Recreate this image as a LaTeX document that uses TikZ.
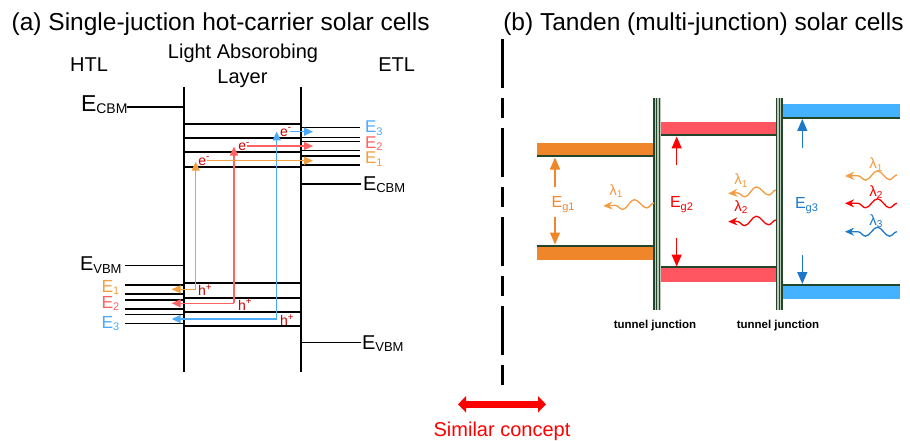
\documentclass[tikz,border=0pt]{standalone}
\usepackage{fontspec}
\setmainfont{Liberation Sans}
\usetikzlibrary{arrows.meta,decorations.pathmorphing}
\definecolor{lor}{HTML}{F0A040}
\definecolor{lrd}{HTML}{FF6262}
\definecolor{lbl}{HTML}{4DAAF8}
\definecolor{dkr}{HTML}{C80000}
\definecolor{bor}{HTML}{F0862A}
\definecolor{brd}{HTML}{FF5661}
\definecolor{bbl}{HTML}{45B2FF}
\definecolor{pure}{HTML}{FF0000}
\definecolor{dbl}{HTML}{1E78C8}
\definecolor{wor}{HTML}{F39B40}
\definecolor{dgr}{HTML}{23452A}
\definecolor{jfl}{HTML}{B9C9BA}
\newcommand{\Elab}[4]{{\fontsize{#1}{#1}\selectfont E}{\fontsize{#2}{#2}\selectfont\raisebox{-#3}{#4}}}
\newcommand{\lam}[1]{{\fontsize{15}{15}\selectfont λ}{\fontsize{10}{10}\selectfont\raisebox{-2.5pt}{#1}}}
\begin{document}
\begin{tikzpicture}[x=1pt,y=-1pt,
  txt/.style={inner sep=0pt,outer sep=0pt},
  layer/.style={line width=2.2pt,black},
  lvl/.style={line width=1.9pt,black},
  thinl/.style={line width=1.3pt,black},
  arr/.style={line width=1.4pt,-{Triangle[length=9pt,width=8pt]}},
  garr/.style={line width=1.4pt,-{Triangle[length=12pt,width=10pt]}},
  edge/.style={line width=2pt,dgr},
  jline/.style={line width=1.2pt,dgr},
  wave/.style={line width=1.3pt,decorate,decoration={snake,amplitude=4.5pt,segment length=24pt,post length=6pt},-{Stealth[length=9pt,width=8pt]}},
  eh/.style={txt,dkr,font=\fontsize{14}{14}\selectfont}
]
\useasboundingbox (0,0) rectangle (910,441);

% ---------- titles ----------
\node[txt,anchor=base west,font=\fontsize{24.5}{24.5}\selectfont] (ta) at (11.7,30.7) {(a) Single-juction hot-carrier solar cells};
\node[txt,anchor=base west,font=\fontsize{24.5}{24.5}\selectfont] (tb) at (503.3,30.7) {(b) Tanden (multi-junction) solar cells};

% ---------- left panel headings ----------
\node[txt,anchor=base,font=\fontsize{20}{20}\selectfont] (htl) at (89,71.7) {HTL};
\node[txt,anchor=base,font=\fontsize{20}{20}\selectfont] (lal1) at (243,58.3) {Light Absorobing};
\node[txt,anchor=base,font=\fontsize{20}{20}\selectfont] (lal2) at (242.5,83.3) {Layer};
\node[txt,anchor=base,font=\fontsize{20}{20}\selectfont] (etl) at (396.7,71.7) {ETL};

% ---------- layer ----------
\coordinate (LT) at (184,87); \coordinate (LB) at (184,372);
\coordinate (RT) at (301,87); \coordinate (RB) at (301,372);
\draw[layer] (LT) -- (LB);
\draw[layer] (RT) -- (RB);
\foreach \y in {124.3,138.3,152,167.3,282.7,297.7,311.7,326}
  \draw[lvl] (184,\y) -- (301,\y);
\foreach \y in {127.7,137.3,141.7,150.7,156,165}
  \draw[thinl] (301,\y) -- (360,\y);
\foreach \y in {285,294,300,309,314.3,323.3}
  \draw[thinl] (125,\y) -- (184,\y);

% band edge labels
\node[txt,anchor=base west] (ecbmL) at (81,111.7) {\Elab{23}{14}{2pt}{CBM}};
\node[txt,anchor=base west] (evbmL) at (80,270.7) {\Elab{20}{13}{2.5pt}{VBM}};
\node[txt,anchor=base west] (ecbmR) at (363,190) {\Elab{20}{13}{2.5pt}{CBM}};
\node[txt,anchor=base west] (evbmR) at (362,349.3) {\Elab{20}{13}{2.5pt}{VBM}};
\coordinate (cL) at (126.7,107); \coordinate (cL2) at (184,107);
\coordinate (vL) at (125,265.7); \coordinate (vL2) at (184,265.7);
\coordinate (cR) at (301,184); \coordinate (cR2) at (361,184);
\coordinate (vR) at (301,342.3); \coordinate (vR2) at (361,342.3);
\draw[thinl] (cL) -- (cL2);
\draw[thinl] (vL) -- (vL2);
\draw[thinl] (cR) -- (cR2);
\draw[thinl] (vR) -- (vR2);

% colored level labels
\node[txt,anchor=base west,lbl] (E3r) at (365,133) {\Elab{17}{11}{2pt}{3}};
\node[txt,anchor=base west,lrd] (E2r) at (365,148.5) {\Elab{17}{11}{2pt}{2}};
\node[txt,anchor=base west,lor] (E1r) at (365,164) {\Elab{17}{11}{2pt}{1}};
\node[txt,anchor=base west,lor] (E1l) at (101.5,292.5) {\Elab{17.5}{11}{2pt}{1}};
\node[txt,anchor=base west,lrd] (E2l) at (101.5,308.5) {\Elab{17.5}{11}{2pt}{2}};
\node[txt,anchor=base west,lbl] (E3l) at (101.5,328) {\Elab{17.5}{11}{2pt}{3}};

% carriers
\coordinate (oB) at (195.7,289.3); \coordinate (oT) at (195.7,161.7); \coordinate (oL) at (171.7,289.3);
\coordinate (rB) at (234,303.3);   \coordinate (rT) at (234,146.5);   \coordinate (rL) at (171.7,303.3);
\coordinate (bB) at (276.7,319);   \coordinate (bT) at (276.7,131.5); \coordinate (bL) at (171.7,319);
\coordinate (oS) at (207,160.7); \coordinate (oE) at (313,160.7);
\coordinate (rS) at (247,146);   \coordinate (rE) at (313,146);
\coordinate (bS) at (290,131.7); \coordinate (bE) at (313,131.7);
\draw[arr,lor] (oB) -- (oT);
\draw[arr,lrd] (rB) -- (rT);
\draw[arr,lbl] (bB) -- (bT);
\draw[arr,lor] (oB) -- (oL);
\draw[arr,lrd] (rB) -- (rL);
\draw[arr,lbl] (bB) -- (bL);
\draw[arr,lor] (oS) -- (oE);
\draw[arr,lrd] (rS) -- (rE);
\draw[arr,lbl] (bS) -- (bE);
\node[eh,anchor=base west] (e1) at (198.3,165) {e\textsuperscript{-}};
\node[eh,anchor=base west] (e2) at (238.3,150.7) {e\textsuperscript{-}};
\node[eh,anchor=base west] (e3) at (280,136) {e\textsuperscript{-}};
\node[eh,anchor=base west] (h1) at (198,295.5) {h\textsuperscript{+}};
\node[eh,anchor=base west] (h2) at (238,310) {h\textsuperscript{+}};
\node[eh,anchor=base west] (h3) at (280,325.5) {h\textsuperscript{+}};

% ---------- divider ----------
\coordinate (dT) at (502.3,39.3); \coordinate (dB) at (502.3,386);
\draw[line width=2.7pt,dash pattern=on 49pt off 10pt on 20pt off 10pt] (dT) -- (dB);
\coordinate (sL) at (458,404.3); \coordinate (sR) at (546,404.3);
\draw[pure,line width=6.5pt,{Triangle[length=8pt,width=16pt]}-{Triangle[length=8pt,width=16pt]}] (sL) -- (sR);
\node[txt,anchor=base,pure,font=\fontsize{20}{20}\selectfont] (sim) at (502,436.7) {Similar concept};

% ---------- right panel bands ----------
\fill[bor] (537,143.3) rectangle (655,156.7);
\draw[edge] (537,156) -- (655,156);
\fill[bor] (537,245) rectangle (655,260);
\draw[edge] (537,245.5) -- (655,245.5);
\fill[brd] (660,121.7) rectangle (777,135.7);
\draw[edge] (660,135.5) -- (777,135.5);
\fill[brd] (660,266.7) rectangle (777,281.7);
\draw[edge] (660,267.2) -- (777,267.2);
\fill[bbl] (783,104.3) rectangle (900,118.3);
\draw[edge] (783,118) -- (900,118);
\fill[bbl] (783,284.3) rectangle (900,299.3);
\draw[edge] (783,284.8) -- (900,284.8);

% tunnel junctions
\fill[jfl] (653.3,98.3) rectangle (660.7,310);
\foreach \x in {654,656.7,659.4} \draw[jline] (\x,98.3) -- (\x,310);
\fill[jfl] (775.9,98.3) rectangle (783.3,310);
\foreach \x in {776.6,779.3,782} \draw[jline] (\x,98.3) -- (\x,310);
\node[txt,anchor=base,font=\bfseries\fontsize{11.5}{11.5}\selectfont] (tj1) at (655,328) {tunnel junction};
\node[txt,anchor=base,font=\bfseries\fontsize{11.5}{11.5}\selectfont] (tj2) at (778,328) {tunnel junction};

% band gap arrows
\coordinate (g1a) at (555,187); \coordinate (g1b) at (555,157.5);
\coordinate (g1c) at (555,217); \coordinate (g1d) at (555,244.5);
\coordinate (g2a) at (676.7,165); \coordinate (g2b) at (676.7,136.5);
\coordinate (g2c) at (676.7,237.7); \coordinate (g2d) at (676.7,266.5);
\coordinate (g3a) at (802.3,148); \coordinate (g3b) at (802.3,119);
\coordinate (g3c) at (802.3,255); \coordinate (g3d) at (802.3,284);
\draw[garr,bor] (g1a) -- (g1b);
\draw[garr,bor] (g1c) -- (g1d);
\draw[garr,pure] (g2a) -- (g2b);
\draw[garr,pure] (g2c) -- (g2d);
\draw[garr,dbl] (g3a) -- (g3b);
\draw[garr,dbl] (g3c) -- (g3d);
\node[txt,anchor=base west,bor] (Eg1) at (551.7,207.3) {\Elab{16}{11}{3pt}{g1}};
\node[txt,anchor=base west,pure] (Eg2) at (670,207.5) {\Elab{16}{11}{3pt}{g2}};
\node[txt,anchor=base west,dbl] (Eg3) at (795,208.3) {\Elab{16}{11}{3pt}{g3}};

% photons
\coordinate (w1s) at (654,203); \coordinate (w1e) at (603.3,206);
\coordinate (w2s) at (776,190); \coordinate (w2e) at (728.3,193.5);
\coordinate (w3s) at (776,220); \coordinate (w3e) at (728.3,221.7);
\coordinate (w4s) at (897,175); \coordinate (w4e) at (845,176);
\coordinate (w5s) at (897,203.3); \coordinate (w5e) at (845,203.3);
\coordinate (w6s) at (897,231.7); \coordinate (w6e) at (845,231.7);
\draw[wave,wor] (w1s) -- (w1e);
\draw[wave,wor] (w2s) -- (w2e);
\draw[wave,pure] (w3s) -- (w3e);
\draw[wave,wor] (w4s) -- (w4e);
\draw[wave,pure] (w5s) -- (w5e);
\draw[wave,dbl] (w6s) -- (w6e);
\node[txt,wor] (l1a) at (616,191) {\lam{1}};
\node[txt,wor] (l1b) at (741,180.5) {\lam{1}};
\node[txt,pure] (l2b) at (741,207) {\lam{2}};
\node[txt,wor] (l1c) at (876,164.5) {\lam{1}};
\node[txt,pure] (l2c) at (876,192) {\lam{2}};
\node[txt,dbl] (l3c) at (876,221) {\lam{3}};
\end{tikzpicture}
\end{document}
